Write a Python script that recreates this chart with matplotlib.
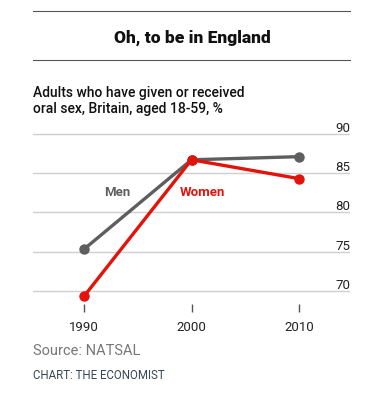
import matplotlib
matplotlib.use("Agg")
from matplotlib import pyplot as plt

years = [1990, 2000, 2010]
men = [75.3, 86.7, 87.1]
women = [69.3, 86.7, 84.3]
y_ticks = [70, 75, 80, 85, 90]

W, H = 376, 414
plt.rcParams['font.family'] = ['Roboto', 'DejaVu Sans']

fig = plt.figure(figsize=(W / 100, H / 100), dpi=100)

def fx(px):
    return px / W

def fy(py):
    return 1 - py / H

# plot area: x 33..350 px, y 120..313 px
ax = fig.add_axes([fx(33), fy(313), fx(350) - fx(33), fy(120) - fy(313)])
ax.set_xlim(1985.26, 2014.74)
ax.set_ylim(67.3, 91.9)

for v in y_ticks:
    ax.axhline(v, color='#cfcfcf', linewidth=1.0, zorder=1)

ax.plot(years, men, color='#5e5e5e', linewidth=2.4, marker='o', markersize=6.5, zorder=3,
        solid_capstyle='round')
ax.plot(years, women, color='#e3120b', linewidth=2.4, marker='o', markersize=6.5, zorder=4,
        solid_capstyle='round')

ax.text(1993.1, 82.6, 'Men', color='#5e5e5e', fontsize=9.5, fontweight='bold', ha='center', va='center')
ax.text(2001.0, 82.6, 'Women', color='#e3120b', fontsize=9.5, fontweight='bold', ha='center', va='center')

for s in ax.spines.values():
    s.set_visible(False)

ax.set_xticks(years)
ax.set_xticklabels([str(y) for y in years])
ax.tick_params(axis='x', direction='in', length=6, width=1, color='#555555', pad=6,
               labelsize=9.5, labelcolor='#222222')

ax.yaxis.tick_right()
ax.set_yticks(y_ticks)
ax.set_yticklabels([str(v) for v in y_ticks])
ax.tick_params(axis='y', length=0, pad=0, labelsize=9.5, labelcolor='#222222')
for lab in ax.get_yticklabels():
    lab.set_horizontalalignment('right')
    lab.set_verticalalignment('bottom')

# header rules and texts
fig.add_artist(plt.Line2D([fx(33), fx(350)], [fy(12), fy(12)], color='#555555', linewidth=0.8))
fig.add_artist(plt.Line2D([fx(33), fx(350)], [fy(61), fy(61)], color='#555555', linewidth=0.8))
fig.text(fx(192), fy(38), 'Oh, to be in England', fontsize=12.5, fontweight='heavy',
         ha='center', va='center', color='#111111')
fig.text(fx(33), fy(101), 'Adults who have given or received\noral sex, Britain, aged 18-59, %',
         fontsize=10, fontweight='medium', ha='left', va='center', color='#111111', linespacing=1.25)

fig.text(fx(33), fy(351), 'Source: NATSAL', fontsize=10.5, ha='left', va='center', color='#777777')
fig.text(fx(33), fy(376), 'CHART: THE ECONOMIST', fontsize=8.3, ha='left', va='center', color='#3a4654')

fig.savefig('out.png', dpi=100, facecolor='white')
